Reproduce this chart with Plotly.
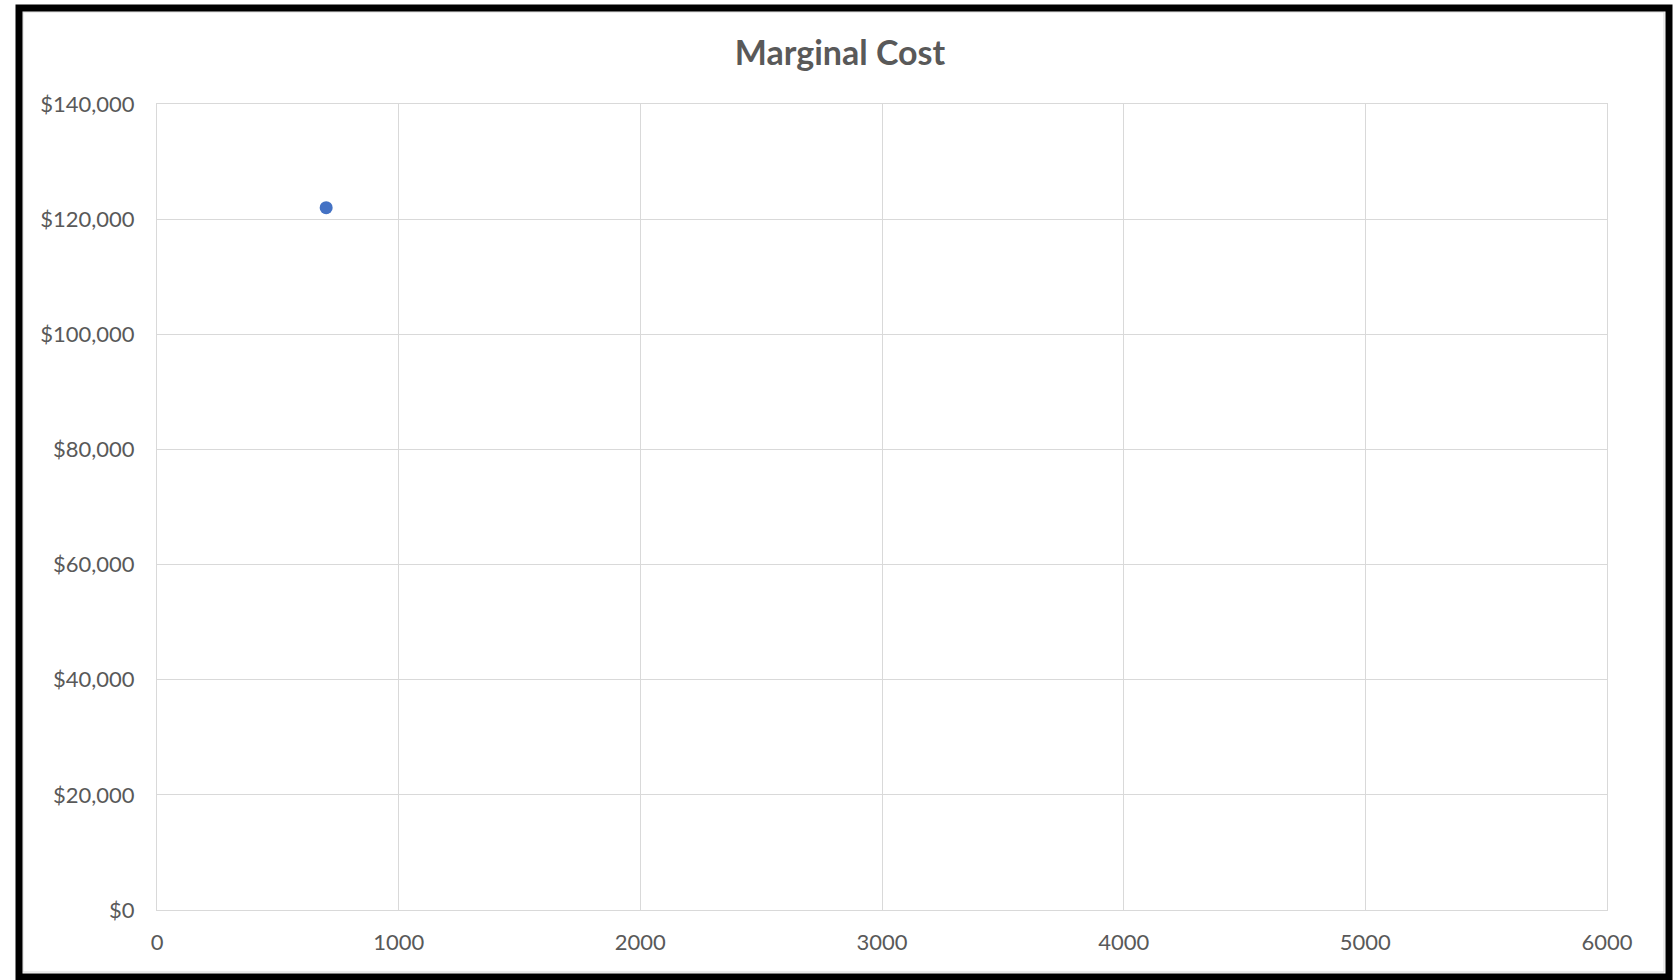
import plotly.graph_objects as go

# Data
quantity = [700]
marginal_cost = [122000]

x_ticks = [0, 1000, 2000, 3000, 4000, 5000, 6000]
y_ticks = [0, 20000, 40000, 60000, 80000, 100000, 120000, 140000]
y_tick_labels = ["$0", "$20,000", "$40,000", "$60,000", "$80,000",
                 "$100,000", "$120,000", "$140,000"]

W, H = 1680, 980
L, R, T, B = 157, 73, 104, 70
PW, PH = W - L - R, H - T - B

def px_x(p):
    return (p - L) / PW

def px_y(p):
    return (H - B - p) / PH

fig = go.Figure()
fig.add_trace(go.Scatter(
    x=quantity, y=marginal_cost, mode="markers",
    marker=dict(color="#4472C4", size=13),
    showlegend=False,
))

grid = "#d9d9d9"
tick_font = dict(family="Lato, Open Sans, sans-serif", size=22, color="#595959")

fig.update_layout(
    width=W, height=H,
    margin=dict(l=L, r=R, t=T, b=B),
    paper_bgcolor="white", plot_bgcolor="white",
    title=dict(text="<b>Marginal Cost</b>", x=0.5, xanchor="center",
               y=1 - 53 / H, yanchor="middle",
               font=dict(family="Lato, Open Sans, sans-serif", size=34, color="#595959")),
    xaxis=dict(range=[0, 6000], tickvals=x_ticks, ticktext=[str(v) for v in x_ticks],
               showgrid=True, gridcolor=grid, gridwidth=1, zeroline=False,
               showline=True, linecolor=grid, linewidth=1, mirror=True,
               ticks="outside", ticklen=13, tickcolor="rgba(0,0,0,0)",
               tickfont=tick_font),
    yaxis=dict(range=[0, 140000], tickvals=y_ticks, ticktext=y_tick_labels,
               showgrid=True, gridcolor=grid, gridwidth=1, zeroline=False,
               showline=True, linecolor=grid, linewidth=1, mirror=True,
               ticks="outside", ticklen=17, tickcolor="rgba(0,0,0,0)",
               tickfont=tick_font),
)

# Chart frame: thin grey chart-area edge plus heavy black outer border
fig.add_shape(type="rect", xref="paper", yref="paper",
              x0=px_x(23), x1=px_x(1664), y0=px_y(972), y1=px_y(12),
              line=dict(color="#d9d9d9", width=1), layer="below")
fig.add_shape(type="rect", xref="paper", yref="paper",
              x0=px_x(19), x1=px_x(1669), y0=px_y(977), y1=px_y(8),
              line=dict(color="black", width=7))

fig.write_html("out.html")
